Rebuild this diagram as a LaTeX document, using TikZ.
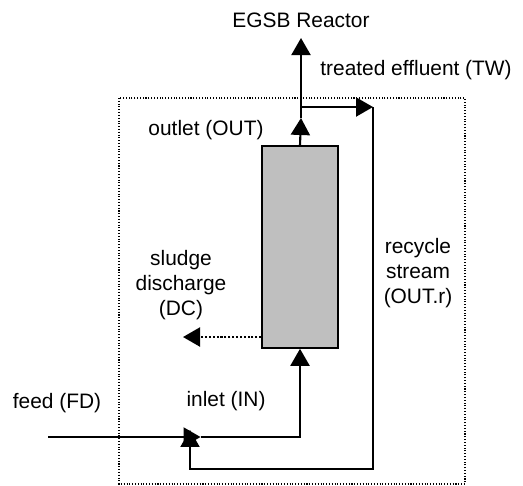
\documentclass[tikz,border=0pt]{standalone}
\usepackage{fontspec}
\setmainfont{Liberation Sans}
\usetikzlibrary{arrows.meta, positioning}
\tikzset{
	flow/.style={line width=1.2pt, -{Triangle[length=0.34cm, width=0.38cm]}},
	lbl/.style={font=\fontsize{11.9}{14.2}\selectfont, align=center, inner sep=0pt}
}
\begin{document}
\begin{tikzpicture}[x=0.02cm, y=-0.02cm]
      \useasboundingbox (0,0) rectangle (523,485);
      % system boundary
      \draw[densely dotted, line width=0.6pt] (119,98) rectangle (465,484);
      \node[draw, line width=0.9pt, fill=gray!50, minimum width=1.52cm, minimum height=4.04cm, inner sep=0pt] (reactor) at (300,247) {};
      \node[lbl] (egsb) at (301,20) {EGSB Reactor};
      \node[lbl, anchor=west] (tw) at (320,70) {treated effluent (TW)};
      \node[lbl] (out) at (206,130) {outlet (OUT)};
      \node[lbl] (dc) at (181,285) {sludge\\discharge\\(DC)};
      \node[lbl] (outr) at (418,273) {recycle\\stream\\(OUT.r)};
      \node[lbl] (fd) at (57,403) {feed (FD)};
      \node[lbl] (in) at (226,401) {inlet (IN)};
      \coordinate (split) at (301,107);
      \coordinate (outhead) at (301,118);
      \coordinate (top) at (301,38);
      \coordinate (twend) at (373,107);
      \coordinate (rcorner) at (373,469);
      \coordinate (mix) at (190,437);
      \coordinate (feedstart) at (48,437);
      \coordinate (dcend) at (183,337);
      % outlet and treated effluent
      \draw[flow] (reactor.north) -- (outhead);
      \draw[flow] (outhead) -- (top);
      \draw[flow] (split) -- (twend);
      % recycle loop back to the feed
      \draw[flow] (twend) -- (rcorner) -| ([yshift=4]mix);
      \draw[flow] (feedstart) -- ([xshift=6]mix);
      \draw[flow] ([xshift=6]mix) -| (reactor.south);
      % sludge discharge
      \draw[flow, densely dotted] (reactor.west |- dcend) -- (dcend);
    \end{tikzpicture}
\end{document}
